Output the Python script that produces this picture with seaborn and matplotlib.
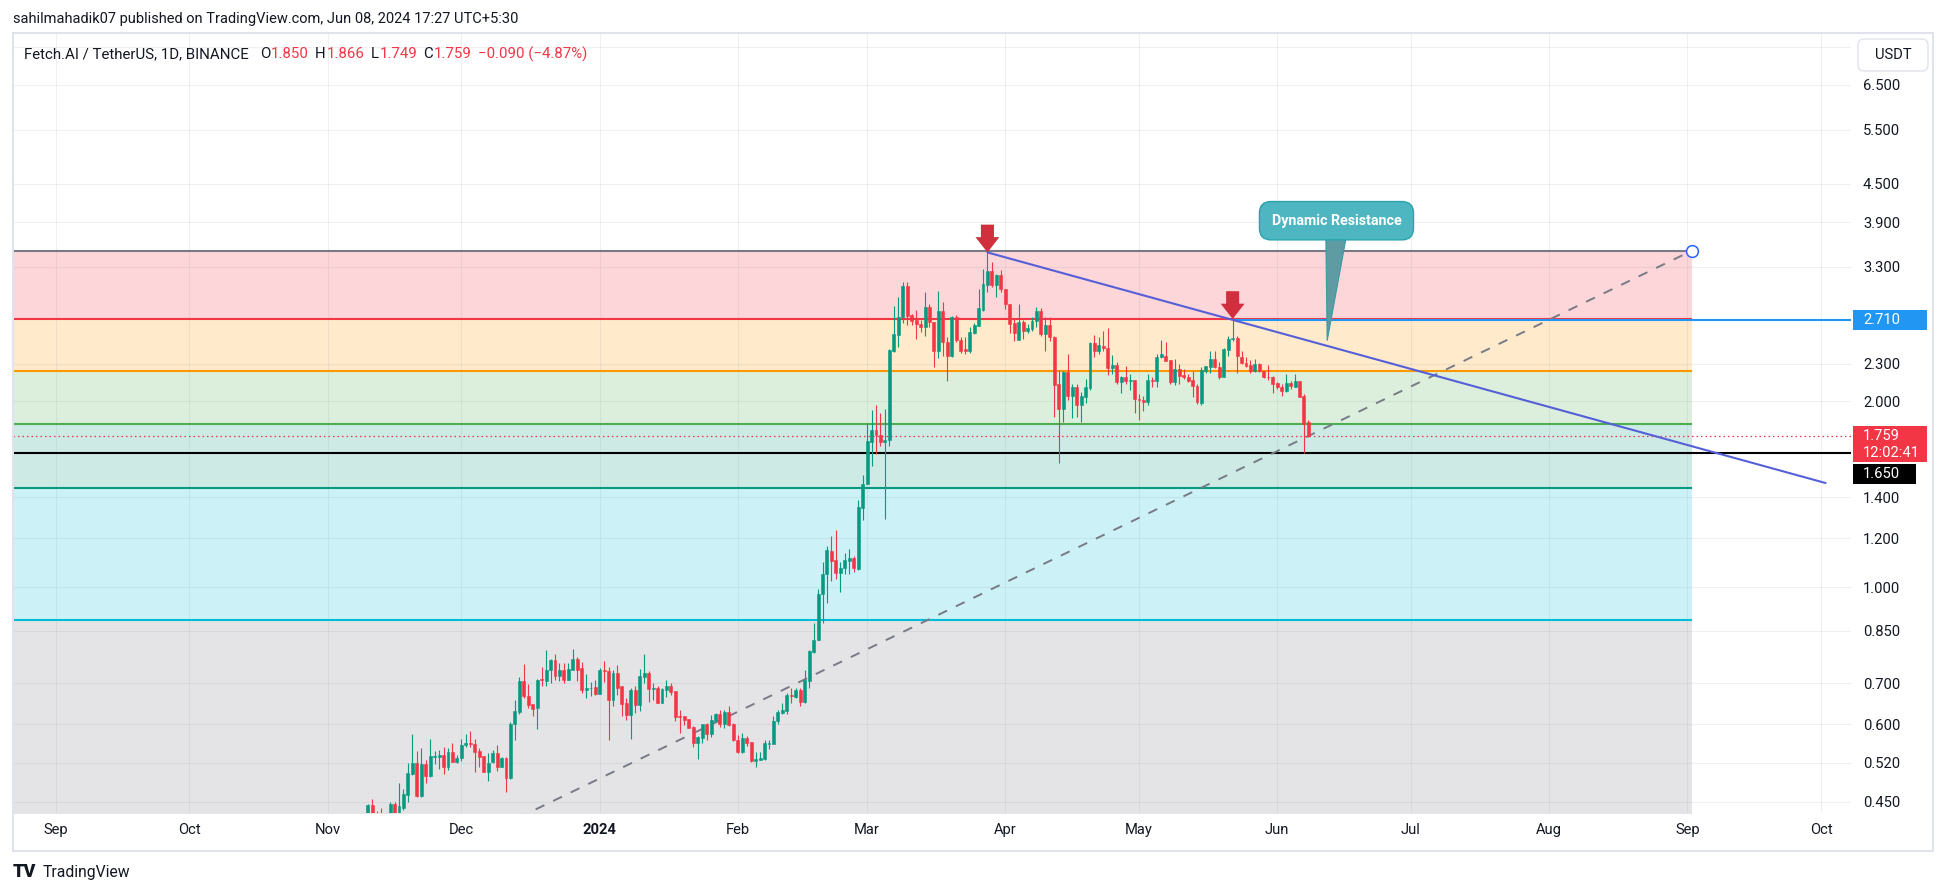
import pandas as pd
import matplotlib
matplotlib.use("Agg")
import matplotlib.pyplot as plt
import matplotlib.dates as mdates
from matplotlib.patches import Rectangle, FancyBboxPatch
from matplotlib.offsetbox import DrawingArea, AnnotationBbox
from matplotlib.text import Text
from matplotlib.ticker import NullLocator, NullFormatter
import seaborn as sns

# FET/USDT daily candles (2023-11-10 .. 2024-06-08)
first_day = "2023-11-10"
opens = [
    # Nov
    .420, .444, .425, .418, .412, .415, .446, .432, .440, .461, .499, .519, .460, .518, .495, .532, .532, .535, .512, .541, .522,
    # Dec
    .529, .555, .559, .557, .544, .533, .503, .522, .539, .512, .530, .492, .602, .629, .705, .667, .647, .637, .710, .705,
    .736, .764, .719, .736, .707, .736, .767, .739, .683, .686, .691,
    # Jan
    .672, .734, .733, .657, .727, .692, .650, .621, .682, .645, .716, .727, .685, .688, .650, .682, .692, .679, .619, .619,
    .612, .595, .559, .571, .600, .579, .608, .623, .600, .628, .600,
    # Feb
    .566, .541, .571, .562, .524, .525, .527, .558, .558, .608, .625, .631, .669, .665, .682, .653, .706, .786, .823, .977,
    1.052, 1.143, 1.106, 1.055, 1.076, 1.103, 1.114, 1.072, 1.344,
    # Mar
    1.471, 1.718, 1.798, 1.767, 1.718, 1.733, 2.416, 2.564, 2.735, 3.077, 2.760, 2.709, 2.668, 2.642, 2.846, 2.685, 2.410,
    2.804, 2.492, 2.371, 2.735, 2.514, 2.431, 2.410, 2.578, 2.651, 2.812, 3.090, 3.254, 3.090, 3.206,
    # Apr
    3.039, 2.874, 2.676, 2.514, 2.692, 2.603, 2.619, 2.695, 2.804, 2.570, 2.661, 2.545, 2.134, 1.942, 2.229, 2.043, 2.113,
    1.976, 2.036, 2.101, 2.486, 2.410, 2.461, 2.440, 2.262, 2.293, 2.147, 2.188, 2.155, 2.166,
    # May
    2.018, 2.011, 1.993, 2.166, 2.155, 2.357, 2.371, 2.334, 2.147, 2.257, 2.209, 2.193, 2.166, 2.116, 1.985, 2.243, 2.271,
    2.342, 2.276, 2.193, 2.422, 2.523, 2.533, 2.362, 2.305, 2.293, 2.243, 2.299, 2.243, 2.193, 2.188,
    # Jun
    2.139, 2.108, 2.077, 2.139, 2.113, 2.155, 2.043, 1.850,
]
highs = [
    .446, .454, .434, .440, .428, .450, .449, .482, .472, .519, .580, .543, .550, .525, .569, .543, .545, .552, .549, .559, .535,
    .569, .579, .585, .568, .549, .534, .539, .545, .555, .532, .532, .606, .658, .716, .751, .697, .647, .710, .743, .791,
    .766, .779, .753, .753, .753, .796, .770, .756, .725, .703, .707,
    .739, .759, .743, .734, .748, .692, .662, .688, .692, .737, .779, .732, .699, .692, .688, .707, .699, .679, .634, .619,
    .612, .596, .575, .602, .604, .621, .626, .633, .633, .642, .604,
    .577, .581, .574, .562, .542, .542, .566, .566, .619, .634, .649, .675, .688, .686, .688, .734, .791, .876, .995, 1.099,
    1.165, 1.209, 1.236, 1.099, 1.138, 1.152, 1.122, 1.382, 1.517,
    1.839, 1.937, 1.969, 1.918, 1.944, 2.430, 2.856, 2.954, 3.115, 3.123, 2.769, 2.812, 2.709, 3.001, 2.874, 2.685, 3.020,
    2.892, 2.539, 2.752, 2.760, 2.545, 2.545, 2.642, 2.676, 3.039, 3.274, 3.483, 3.356, 3.214, 3.262,
    3.039, 2.874, 2.718, 2.874, 2.709, 2.668, 2.735, 2.846, 2.833, 2.743, 2.735, 2.555, 2.248, 2.243, 2.386, 2.134, 2.134,
    2.069, 2.174, 2.492, 2.561, 2.539, 2.603, 2.630, 2.380, 2.313, 2.201, 2.279, 2.215, 2.166,
    2.056, 2.043, 2.215, 2.188, 2.386, 2.517, 2.492, 2.334, 2.342, 2.299, 2.257, 2.215, 2.237, 2.134, 2.271, 2.285, 2.416,
    2.416, 2.313, 2.437, 2.555, 2.718, 2.555, 2.410, 2.362, 2.334, 2.342, 2.305, 2.243, 2.293, 2.201,
    2.147, 2.134, 2.215, 2.161, 2.215, 2.161, 2.056, 1.866,
]
lows = [
    .405, .420, .410, .405, .395, .410, .428, .425, .436, .450, .497, .458, .458, .483, .494, .518, .509, .499, .506, .521, .520,
    .524, .552, .552, .503, .512, .502, .486, .520, .504, .511, .466, .490, .566, .623, .661, .637, .619, .590, .693, .693,
    .699, .707, .705, .700, .707, .734, .705, .675, .663, .666, .669,
    .672, .703, .567, .642, .669, .619, .611, .569, .626, .631, .699, .653, .657, .650, .650, .665, .669, .608, .582, .598,
    .591, .552, .527, .560, .566, .573, .606, .595, .591, .596, .565,
    .540, .540, .553, .521, .511, .525, .525, .547, .558, .600, .623, .623, .649, .661, .642, .650, .688, .783, .823, .874,
    .943, 1.024, 1.033, .983, 1.052, 1.052, 1.059, 1.068, 1.286,
    1.467, 1.569, 1.645, 1.690, 1.290, 1.690, 2.400, 2.446, 2.676, 2.661, 2.661, 2.523, 2.587, 2.555, 2.642, 2.276, 2.351,
    2.371, 2.155, 2.357, 2.492, 2.392, 2.386, 2.392, 2.570, 2.651, 2.804, 3.001, 3.058, 2.947, 3.001,
    2.821, 2.578, 2.507, 2.514, 2.523, 2.581, 2.603, 2.635, 2.555, 2.416, 2.501, 1.885, 1.588, 1.850, 2.006, 1.880, 1.885,
    1.850, 1.985, 2.087, 2.362, 2.386, 2.416, 2.209, 2.215, 2.134, 2.064, 2.134, 2.087, 1.913,
    1.862, 1.928, 1.976, 2.108, 2.108, 2.351, 2.328, 2.134, 2.129, 2.134, 2.174, 2.147, 2.031, 1.981, 1.969, 2.220, 2.220,
    2.262, 2.174, 2.188, 2.371, 2.507, 2.220, 2.299, 2.276, 2.220, 2.229, 2.229, 2.183, 2.166, 2.062,
    2.095, 2.043, 2.069, 2.095, 2.108, 2.031, 1.651, 1.749,
]
closes = [
    .444, .425, .420, .412, .415, .446, .432, .443, .463, .500, .519, .460, .518, .495, .533, .533, .535, .512, .541, .522, .529,
    .555, .560, .558, .542, .532, .503, .520, .539, .512, .530, .492, .602, .630, .705, .667, .645, .635, .707, .708, .736,
    .764, .719, .736, .707, .737, .767, .736, .682, .686, .688, .672,
    .734, .733, .657, .727, .688, .647, .621, .683, .645, .718, .727, .685, .688, .650, .685, .692, .677, .617, .617, .610,
    .592, .559, .573, .600, .579, .610, .624, .600, .628, .598, .566,
    .541, .570, .560, .523, .527, .529, .559, .559, .608, .628, .633, .669, .668, .682, .653, .707, .788, .823, .977, 1.052,
    1.148, 1.102, 1.055, 1.076, 1.106, 1.114, 1.076, 1.347, 1.471,
    1.722, 1.798, 1.761, 1.718, 1.733, 2.422, 2.570, 2.735, 3.077, 2.752, 2.695, 2.668, 2.642, 2.846, 2.685, 2.410, 2.804,
    2.492, 2.371, 2.735, 2.514, 2.416, 2.410, 2.587, 2.661, 2.830, 3.096, 3.254, 3.090, 3.206, 3.039,
    2.874, 2.668, 2.578, 2.692, 2.603, 2.630, 2.701, 2.804, 2.570, 2.661, 2.539, 2.129, 1.942, 2.229, 2.043, 2.113, 1.976,
    2.043, 2.108, 2.486, 2.410, 2.470, 2.437, 2.262, 2.293, 2.147, 2.188, 2.155, 2.166, 2.018,
    2.011, 1.993, 2.166, 2.155, 2.362, 2.386, 2.328, 2.147, 2.257, 2.201, 2.188, 2.161, 2.116, 1.993, 2.248, 2.285, 2.342,
    2.271, 2.193, 2.431, 2.523, 2.533, 2.371, 2.305, 2.285, 2.243, 2.299, 2.243, 2.188, 2.188, 2.134,
    2.108, 2.082, 2.139, 2.116, 2.155, 2.036, 1.839, 1.759,
]

# fib retracement tool (anchors + levels) and drawings
fib_start, fib_end = "2023-08-22", "2024-09-02"
fib_levels = [3.505, 2.72, 2.235, 1.84, 1.447, 0.885, 0.17]
fib_colors = ["#787b86", "#f23645", "#ff9800", "#4caf50", "#089981", "#00bcd4", "#787b86"]
support = 1.65
resist_from, resist = "2024-05-22", 2.71
last_price, countdown = 1.759, "12:02:41"
trend_dates = ["2024-03-28", "2024-10-02"]
trend_prices = [3.483, 1.475]
arrow_days = ["2024-03-28", "2024-05-22"]
callout_text = "Dynamic Resistance"
callout_center = ("2024-06-14 07:00", 3.92)
callout_tail = (["2024-06-11 22:00", "2024-06-16 10:00", "2024-06-12 05:00"], [3.665, 3.665, 2.507])

# price scale: 7.5 only shows as a grid line (its label sits under the USDT box)
grid_only = [7.5]
yticks = [6.5, 5.5, 4.5, 3.9, 3.3, 2.3, 2.0, 1.4, 1.2, 1.0, 0.85, 0.7, 0.6, 0.52, 0.45]

sns.set_style("white")
FONT = ["Roboto", "DejaVu Sans"]
plt.rcParams["font.family"] = FONT
INK = "#131722"
UP, DOWN = "#089981", "#f23645"

W, H = 1946, 893
fig = plt.figure(figsize=(W / 100, H / 100), dpi=100)
ax = fig.add_axes([13 / W, 1 - 813 / H, (1851 - 13) / W, (813 - 34) / H])
ax.set_yscale("log")

df = pd.DataFrame({"open": opens, "high": highs, "low": lows, "close": closes},
                  index=pd.date_range(first_day, periods=len(closes), freq="D"))
df["color"] = [UP if c >= o else DOWN for o, c in zip(df.open, df.close)]
body_lo = df[["open", "close"]].min(axis=1)
body_hi = df[["open", "close"]].max(axis=1)

# fib bands + levels
fx = pd.to_datetime([fib_start, fib_end])
for top, bot, c in zip(fib_levels[:-1], fib_levels[1:], fib_colors[1:]):
    ax.fill_between(fx, bot, top, color=c, alpha=0.2, lw=0, zorder=0.2)
ax.hlines(fib_levels, fx[0], fx[1], colors=fib_colors, lw=1.5, zorder=1.5)
sns.lineplot(x=fx, y=[fib_levels[-1], fib_levels[0]], ax=ax, color="#787b86",
             lw=1.4, linestyle=(0, (5, 5)), zorder=2.5)
ax.plot(fx[1], fib_levels[0], "o", ms=8.5, mfc="white", mec="#2962ff", mew=1.1, zorder=6)

ax.axhline(support, color="black", lw=1.5, zorder=1.6)
ax.hlines(resist, pd.Timestamp(resist_from), pd.Timestamp("2024-10-08"), colors="#2196f3", lw=1.5, zorder=1.55)
ax.axhline(last_price, color=DOWN, lw=0.9, ls=(0, (1.2, 2.4)), zorder=2.6)

# candles
ax.vlines(df.index, df.low, df.high, colors=df.color, lw=0.8, zorder=2.9)
ax.bar(df.index, body_hi - body_lo, bottom=body_lo, width=0.66, color=df.color,
       edgecolor=df.color, lw=0.4, zorder=3)

# trend line
sns.lineplot(x=pd.to_datetime(trend_dates), y=trend_prices, ax=ax, color="#5560d8", lw=1.5, zorder=4)

# red arrows at the two highs
for d in arrow_days:
    ax.annotate("", xy=(pd.Timestamp(d), df.loc[d, "high"]), xytext=(0, 20), textcoords="offset points",
                arrowprops=dict(arrowstyle="simple,head_length=0.55,head_width=0.86,tail_width=0.47",
                                mutation_scale=20, fc="#d12f3e", ec="none", shrinkA=0, shrinkB=0),
                zorder=8)

# callout
tx = mdates.date2num(pd.to_datetime(callout_tail[0]))
ax.fill(tx, callout_tail[1], color="#5e9ba3", ec="#3a9aa6", lw=0.8, zorder=6)
ax.text(pd.Timestamp(callout_center[0]), callout_center[1], callout_text, ha="center", va="center",
        color="white", fontsize=10.3, weight="bold", zorder=7,
        bbox=dict(boxstyle="round,pad=0.85,rounding_size=0.8", fc="#4db6c0", ec="#2aa3af", lw=1))

# axes
ax.set_xlim(pd.Timestamp("2023-08-22 10:00"), pd.Timestamp("2024-10-07 17:00"))
ax.set_ylim(0.4313, 7.86)
months = pd.date_range("2023-09-01", "2024-10-01", freq="MS")
ax.set_xticks(months)
ax.set_xticklabels(["2024" if m.month == 1 else m.strftime("%b") for m in months])
for lab in ax.get_xticklabels():
    if lab.get_text() == "2024":
        lab.set_fontweight("bold")
ax.yaxis.tick_right()
ax.set_yticks(grid_only + yticks)
ax.set_yticklabels([""] * len(grid_only) + [f"{v:.3f}" for v in yticks])
ax.yaxis.set_minor_locator(NullLocator())
ax.yaxis.set_minor_formatter(NullFormatter())
ax.tick_params(axis="x", length=0, pad=7.2, labelsize=10.6, labelcolor=INK)
ax.tick_params(axis="y", which="both", length=0, pad=8.6, labelsize=10.6, labelcolor=INK)
ax.set_xlabel("")
ax.set_ylabel("")
for s in ax.spines.values():
    s.set_visible(False)
ax.set_axisbelow(True)
ax.grid(True, which="major", color="#8890a0", alpha=0.13, lw=0.75)

# price tags on the scale
PT = 0.72


def price_tag(price, label, color, w_px=74, h_px=20, dy_px=0.0, sub=None):
    w, h = w_px * PT, h_px * PT
    da = DrawingArea(w, h, 0, 0)
    da.add_artist(Rectangle((0, 0), w, h, fc=color, ec="none"))
    kw = dict(color="white", fontsize=10.6, ha="left", va="center", family=FONT)
    if sub is None:
        da.add_artist(Text(10 * PT, h / 2, label, **kw))
        frac = 0.5
    else:
        da.add_artist(Text(10 * PT, h - 10 * PT, label, **kw))
        da.add_artist(Text(10 * PT, 8.5 * PT, sub, **kw))
        frac = (h_px - 10) / h_px
    ab = AnnotationBbox(da, (1, price), xycoords=ax.get_yaxis_transform(), xybox=(2 * PT, dy_px * PT),
                        boxcoords="offset points", box_alignment=(0, frac), frameon=False, pad=0,
                        annotation_clip=False, zorder=10)
    ax.add_artist(ab)


price_tag(resist, f"{resist:.3f}", "#2196f3")
price_tag(last_price, f"{last_price:.3f}", DOWN, h_px=36, sub=countdown)
price_tag(support, f"{support:.3f}", "black", w_px=63, dy_px=-21)

# chrome: frame, USDT box, header, legend, logo
inch = fig.dpi_scale_trans
fig.add_artist(Rectangle((12.5 / 100, (H - 851) / 100), (1933 - 12.5) / 100, (851 - 33) / 100, transform=inch,
                         fill=False, ec="#e0e3eb", lw=1.5))
fig.add_artist(FancyBboxPatch((1858 / 100, (H - 71) / 100), 70 / 100, 32 / 100, transform=inch,
                              boxstyle="round,pad=0,rounding_size=0.06", fc="white", ec="#e0e3eb", lw=1))
fig.text(1893 / W, 1 - 55 / H, "USDT", ha="center", va="center", fontsize=10.6, color=INK)

fig.text(13 / W, 1 - 19 / H, "sahilmahadik07 published on TradingView.com, Jun 08, 2024 17:27 UTC+5:30",
         ha="left", va="center", fontsize=10.5, color=INK)

pieces = [("Fetch.AI / TetherUS, 1D, BINANCE", INK, 0), ("O", INK, 8.4), ("1.850", DOWN, 0.5),
          ("H", INK, 4.5), ("1.866", DOWN, 0.5), ("L", INK, 4.5), ("1.749", DOWN, 0.5),
          ("C", INK, 4.5), ("1.759", DOWN, 0.5), ("\u22120.090 (\u22124.87%)", DOWN, 4.5)]
prev = fig.text(23.5 / W, 1 - 54 / H, pieces[0][0], ha="left", va="center", fontsize=10.8, color=pieces[0][1])
for s, c, gap in pieces[1:]:
    prev = ax.annotate(s, xy=(1, 0.5), xycoords=prev, xytext=(gap, 0), textcoords="offset points",
                       ha="left", va="center", fontsize=10.8, color=c, annotation_clip=False)

fig.text(12.5 / W, 1 - 872 / H, "TV", ha="left", va="center", fontsize=13, weight="heavy", color=INK)
fig.text(42.5 / W, 1 - 872 / H, "TradingView", ha="left", va="center", fontsize=11.3, color=INK)

fig.savefig("out.png", dpi=100)
